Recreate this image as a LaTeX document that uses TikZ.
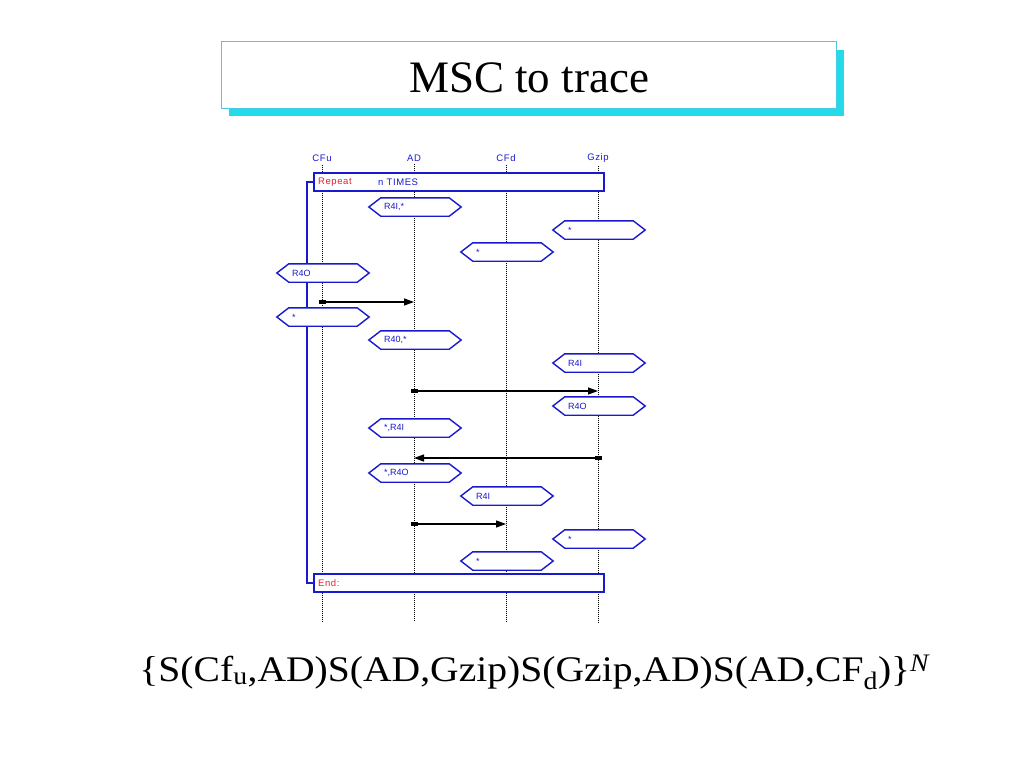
\documentclass[tikz,border=0pt]{standalone}
\usepackage{fontspec}
\setmainfont{Liberation Serif}
\newfontfamily\mscfont[LetterSpace=6]{Liberation Sans}
\newfontfamily\hexfont{Liberation Sans}
\usetikzlibrary{arrows.meta,calc}
\definecolor{mscblue}{RGB}{25,25,205}
\definecolor{mscred}{RGB}{230,30,50}
\definecolor{tshadow}{RGB}{34,218,232}
\definecolor{tborder}{RGB}{70,205,230}
\tikzset{
  lifelbl/.style={text=mscblue,font=\mscfont\fontsize{9.5}{11}\selectfont,inner sep=0pt},
  lifeline/.style={black,line width=1pt,dash pattern=on 1pt off 1pt},
  hexnode/.style={minimum width=92pt,minimum height=18pt,inner xsep=15pt,inner ysep=0pt,
    text width=62pt,align=left,text=mscblue,font=\hexfont\fontsize{9}{10}\selectfont},
  hexline/.style={draw=mscblue,fill=white,line width=1.4pt,line join=miter},
  framebox/.style={draw=mscblue,fill=white,line width=1.5pt,minimum width=290pt,minimum height=18pt,inner sep=0pt},
  redlbl/.style={text=mscred,font=\mscfont\fontsize{9.5}{11}\selectfont,inner sep=0pt,anchor=west},
  bluelbl/.style={text=mscblue,font=\mscfont\fontsize{9.5}{11}\selectfont,inner sep=0pt,anchor=west},
  bracketline/.style={draw=mscblue,line width=1.8pt},
  msg/.style={black,line width=1.3pt,shorten <=-3.5pt,
    {Rectangle[length=7pt,width=3.5pt]}-{Triangle[length=10pt,width=7pt]}},
}
\newcommand{\hexmsg}[4]{%
  \node[hexnode] (#1) at (#2,#3) {#4};
  \path[hexline] (#1.west) -- ($(#1.north west)+(12,0)$) -- ($(#1.north east)+(-12,0)$)
    -- (#1.east) -- ($(#1.south east)+(-12,0)$) -- ($(#1.south west)+(12,0)$) -- cycle;
  \node[hexnode] at (#1) {#4};
}
\begin{document}
\begin{tikzpicture}[x=1pt,y=-1pt]
\path[use as bounding box] (0,0) rectangle (1024,768);
% title
\node[fill=tshadow,minimum width=615pt,minimum height=66pt,inner sep=0pt] (tshad) at (536.5,83) {};
\node[draw=tborder,fill=white,line width=1pt,minimum width=615pt,minimum height=66pt,inner sep=0pt] (titlebox) at (528.5,75) {};
\node[font=\fontsize{45}{50}\selectfont,inner sep=0pt,anchor=base] (title) at (529,92) {MSC to trace};
% lifelines
\node[lifelbl] (cfu) at (322,158) {CFu};
\node[lifelbl] (ad) at (414,158) {AD};
\node[lifelbl] (cfd) at (506,158) {CFd};
\node[lifelbl] (gzip) at (598,158) {Gzip};
\coordinate (bot) at (0,622);
\foreach \n in {cfu,ad,cfd,gzip}{
  \draw[lifeline] ($(\n.south)+(0,3)$) -- (\n |- bot);
}
% repeat frame
\node[framebox] (rep) at (459,182) {};
\node[framebox] (endb) at (459,583) {};
\node[redlbl] (reptxt) at (318,182.5) {Repeat};
\node[bluelbl] (ntimes) at (378,182.5) {n TIMES};
\node[redlbl] (endtxt) at (318,583.5) {End:};
\coordinate (bx) at (307,0);
\draw[bracketline] (rep.west) -- (rep.west -| bx) -- (endb.west -| bx) -- (endb.west);
% messages (hexagons)
\hexmsg{h1}{415}{207}{R4I,*}
\hexmsg{h2}{599}{230}{*}
\hexmsg{h3}{507}{252}{*}
\hexmsg{h4}{323}{273}{R4O}
\hexmsg{h5}{323}{317}{*}
\hexmsg{h6}{415}{340}{R40,*}
\hexmsg{h7}{599}{363}{R4I}
\hexmsg{h8}{599}{406}{R4O}
\hexmsg{h9}{415}{428}{*,R4I}
\hexmsg{h10}{415}{473}{*,R4O}
\hexmsg{h11}{507}{496}{R4I}
\hexmsg{h12}{599}{539}{*}
\hexmsg{h13}{507}{561}{*}
% arrows
\coordinate (a1s) at (322,302); \coordinate (a1e) at (414,302);
\coordinate (a2s) at (414,391); \coordinate (a2e) at (598,391);
\coordinate (a3s) at (598,458); \coordinate (a3e) at (414,458);
\coordinate (a4s) at (414,524); \coordinate (a4e) at (506,524);
\draw[msg] (a1s) -- (a1e);
\draw[msg] (a2s) -- (a2e);
\draw[msg] (a3s) -- (a3e);
\draw[msg] (a4s) -- (a4e);
% formula
\node[font=\fontsize{36}{40}\selectfont,inner sep=0pt,anchor=base] (formula) at (535,681)
  {\scalebox{1.1}[1]{\{S(Cf\textsubscript{u},AD)S(AD,Gzip)S(Gzip,AD)S(AD,CF\textsubscript{d})\}\textsuperscript{\textit{N}}}};
\end{tikzpicture}
\end{document}
